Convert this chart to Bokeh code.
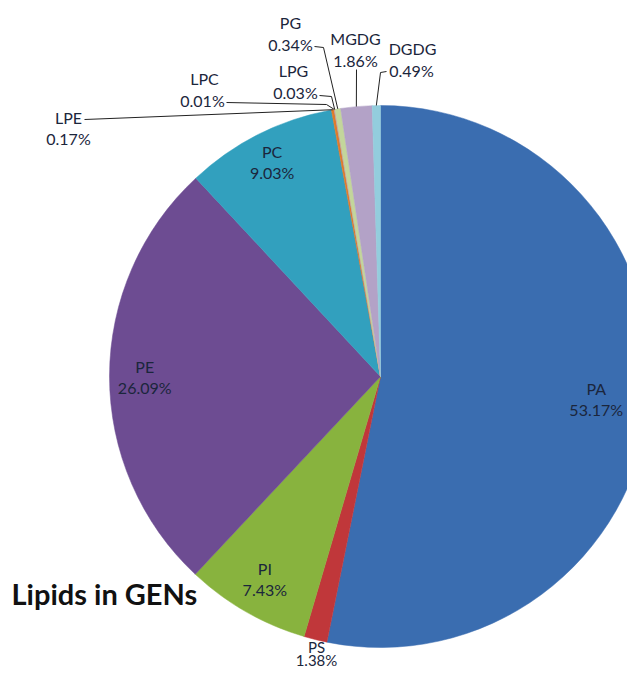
import numpy as np
from bokeh.plotting import figure
from bokeh.models import Range1d
from bokeh.core.properties import value
from bokeh.embed import file_html
from bokeh.resources import INLINE

# ---- data ----
lipids = ["PA", "PS", "PI", "PE", "PC", "LPE", "LPC", "LPG", "PG", "MGDG", "DGDG"]
shares = [53.17, 1.38, 7.43, 26.09, 9.03, 0.17, 0.01, 0.03, 0.34, 1.86, 0.49]
pct_labels = ["53.17%", "1.38%", "7.43%", "26.09%", "9.03%", "0.17%", "0.01%",
              "0.03%", "0.34%", "1.86%", "0.49%"]
title_text = "Lipids in GENs"

# ---- style / layout ----
colors = ["#3A6DB0", "#C0373A", "#88B33E", "#6D4C92", "#32A0BE", "#E07B2B",
          "#95B3D7", "#D99694", "#C3D69B", "#B3A2C7", "#93CDDD"]
W, H = 627, 668
CX, CY, R = 380, 376, 271          # picture-pixel centre and radius
FONT = value("Lato")
TXT = "#1B263C"

def to_y(py):
    return H - py

p = figure(width=W, height=H, output_backend="svg", toolbar_location=None,
           x_range=Range1d(0, W), y_range=Range1d(0, H), min_border=0)
p.axis.visible = False
p.grid.visible = False
p.outline_line_color = None
p.background_fill_color = "white"
p.border_fill_color = "white"

frac = np.array(shares) / sum(shares)
cum_end = np.cumsum(frac)
cum_start = cum_end - frac
start_ang = np.pi / 2 - 2 * np.pi * cum_start
end_ang = np.pi / 2 - 2 * np.pi * cum_end
mid_theta = 2 * np.pi * (cum_start + cum_end) / 2   # clockwise from top

p.wedge(x=CX, y=to_y(CY), radius=R, start_angle=list(start_ang), end_angle=list(end_ang),
        direction="clock", fill_color=colors, line_color=colors, line_width=0.5)

# inside labels
inside = {"PA": 0.80, "PC": 0.89, "PE": 0.87, "PI": 0.86}
for i, name in enumerate(lipids):
    if name in inside:
        f = inside[name]
        px = CX + f * R * np.sin(mid_theta[i])
        py = CY - f * R * np.cos(mid_theta[i])
        p.text(x=[px, px], y=[to_y(py - 10), to_y(py + 11)], text=[name, pct_labels[i]],
               text_align="center", text_baseline="middle", text_font=FONT,
               text_font_size="16px", text_color=TXT)

# outside labels: (name x, name y, pct x, pct y, leader path points before pie edge, size)
outside = {
    "LPE": (68, 117, 68, 138, [(84, 119)], "16px"),
    "LPC": (204, 78, 202, 100, [(226, 102), (326, 104)], "16px"),
    "LPG": (293, 70, 295, 92, [(319, 95), (331, 96)], "16px"),
    "PG": (290, 22, 290, 44, [(314, 46), (323, 47)], "16px"),
    "MGDG": (355, 38, 355, 60, [(356, 69)], "16px"),
    "DGDG": (412, 48, 411, 70, [(386, 71), (380, 72)], "16px"),
    "PS": (316, 646, 316, 659, [], "15px"),
}
for i, name in enumerate(lipids):
    if name in outside:
        nx, ny, qx, qy, path, fs = outside[name]
        p.text(x=[nx, qx], y=[to_y(ny), to_y(qy)], text=[name, pct_labels[i]],
               text_align="center", text_baseline="middle", text_font=FONT,
               text_font_size=fs, text_color=TXT)
        if path:
            ex = CX + R * np.sin(mid_theta[i])
            ey = CY - R * np.cos(mid_theta[i])
            xs = [pt[0] for pt in path] + [ex]
            ys = [to_y(pt[1]) for pt in path] + [to_y(ey)]
            p.line(xs, ys, line_color="#222222", line_width=1)

# title
p.text(x=[11], y=[to_y(593)], text=[title_text], text_align="left",
       text_baseline="middle", text_font=FONT, text_font_size="29px",
       text_font_style="bold", text_color="#111111")

open("out.html", "w").write(file_html(p, INLINE))
